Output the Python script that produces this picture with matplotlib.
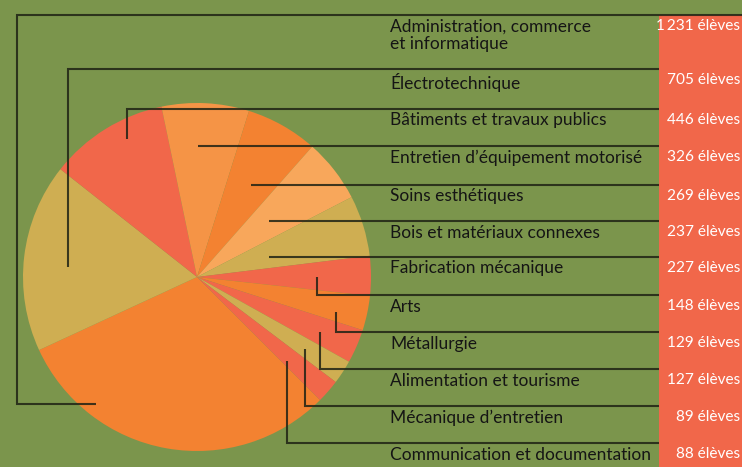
import matplotlib
matplotlib.use("Agg")
import matplotlib.pyplot as plt
from matplotlib.patches import Rectangle

# ---- data ----
programmes = [
    "Administration, commerce\net informatique",
    "Électrotechnique",
    "Bâtiments et travaux publics",
    "Entretien d’équipement motorisé",
    "Soins esthétiques",
    "Bois et matériaux connexes",
    "Fabrication mécanique",
    "Arts",
    "Métallurgie",
    "Alimentation et tourisme",
    "Mécanique d’entretien",
    "Communication et documentation",
]
eleves = [1231, 705, 446, 326, 269, 237, 227, 148, 129, 127, 89, 88]
value_labels = ["1\u2009231 élèves", "705 élèves", "446 élèves", "326 élèves", "269 élèves",
                "237 élèves", "227 élèves", "148 élèves", "129 élèves", "127 élèves",
                "89 élèves", "88 élèves"]

# ---- styles ----
GREEN = "#7b954c"
RED = "#f1674a"
ORANGE = "#f38231"
LORANGE = "#f59446"
PEACH = "#f8a75b"
TAN = "#cfae52"
slice_colors = [ORANGE, TAN, RED, LORANGE, ORANGE, PEACH, TAN, RED, ORANGE, RED, TAN, RED]
LINE = "#1f2214"

W, H = 742, 467
fig = plt.figure(figsize=(W / 100, H / 100), dpi=100, facecolor=GREEN)
ax = fig.add_axes([0, 0, 1, 1])
ax.set_facecolor(GREEN)

def Y(py):
    return H - py

# pie
cx, cy, r = 197, 277, 174
ax.pie(eleves, colors=slice_colors, startangle=-45, counterclock=False,
       center=(cx, Y(cy)), radius=r, wedgeprops=dict(linewidth=0))
ax.set_xlim(0, W)
ax.set_ylim(0, H)
ax.set_aspect("equal", adjustable="box")
ax.axis("off")

# red value column
col_x = 659
ax.add_patch(Rectangle((col_x, 0), W - col_x, Y(15), facecolor=RED, edgecolor="none", zorder=1))

# row tops (layout) and leader geometry (layout)
row_tops = [15, 69, 109, 146, 185, 221, 257, 295, 332, 369, 406, 443]
leaders = [
    [(96, 404), (17, 404), (17, 15)],
    [(68, 267), (68, 69)],
    [(127, 139), (127, 109)],
    [(198, 146)],
    [(251, 185)],
    [(269, 221)],
    [(269, 257)],
    [(317, 277), (317, 295)],
    [(336, 312), (336, 332)],
    [(320, 332), (320, 369)],
    [(305, 349), (305, 406)],
    [(287, 361), (287, 443)],
]
for i, pts in enumerate(leaders):
    end_x = W if i == 0 else col_x
    pts = pts + [(end_x, row_tops[i])]
    xs = [p[0] for p in pts]
    ys = [Y(p[1]) for p in pts]
    ax.plot(xs, ys, color=LINE, lw=1.5, alpha=0.85, solid_capstyle="butt",
            solid_joinstyle="miter", zorder=3)

fam = ["Lato", "DejaVu Sans"]
for i, (lab, val) in enumerate(zip(programmes, value_labels)):
    ty = row_tops[i] + 3.5
    ax.text(390, Y(ty), lab, ha="left", va="top", fontsize=12.5, color="#151515",
            family=fam, linespacing=1.1, zorder=4)
    ax.text(740, Y(ty + 0.5), val, ha="right", va="top", fontsize=11.1, color="white",
            family=fam, zorder=4)

fig.savefig("out.png", dpi=100, facecolor=GREEN)
